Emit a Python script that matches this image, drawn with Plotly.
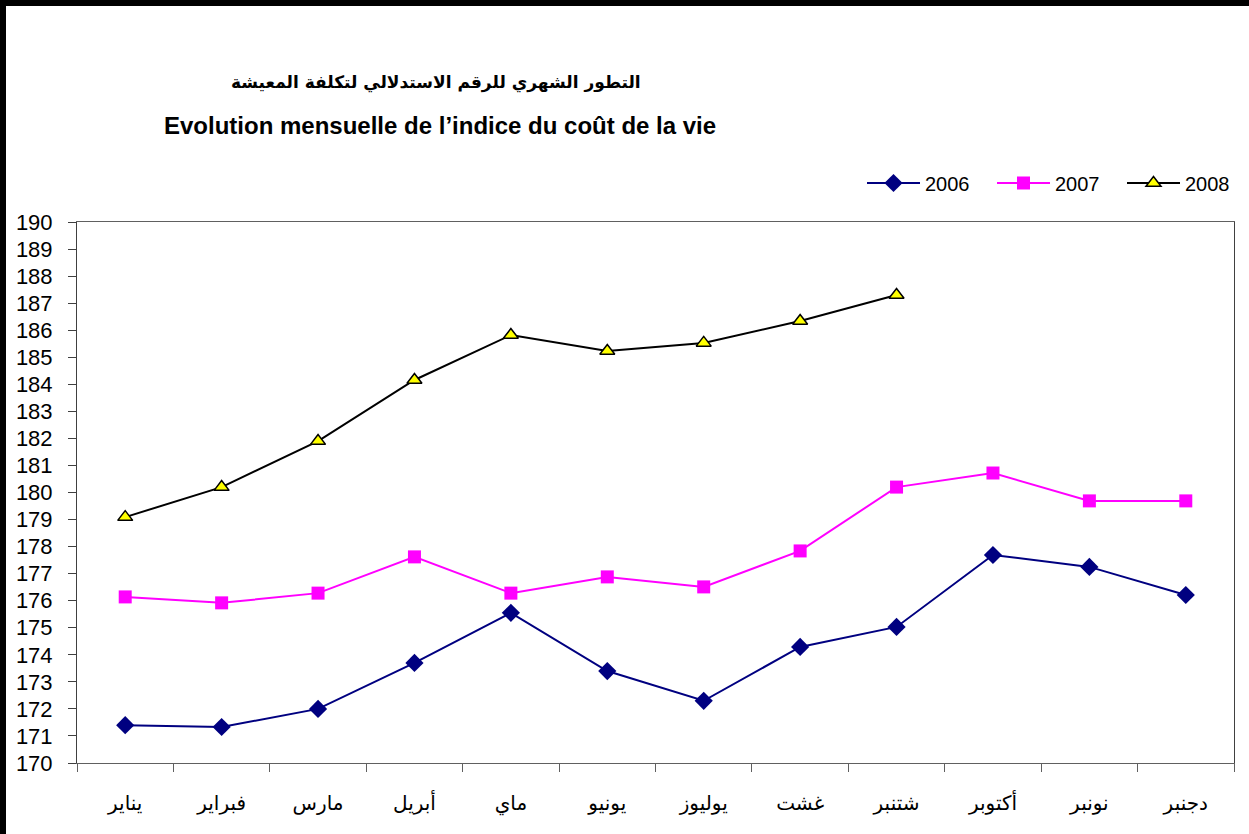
import plotly.graph_objects as go

months = ["يناير", "فبراير", "مارس", "أبريل", "ماي", "يونيو",
          "يوليوز", "غشت", "شتنبر", "أكتوبر", "نونبر", "دجنبر"]
y2006 = [171.4, 171.33, 172.0, 173.7, 175.55, 173.4, 172.3, 174.29, 175.03, 177.69, 177.25, 176.21]
y2007 = [176.14, 175.92, 176.28, 177.62, 176.28, 176.88, 176.51, 177.84, 180.2, 180.72, 179.69, 179.69]
y2008 = [179.09, 180.2, 181.9, 184.16, 185.82, 185.23, 185.53, 186.34, 187.3]
yticks = list(range(170, 191))

W, H = 1249, 834
L, R, T, B = 77, 15, 222, 71
pw, ph = W - L - R, H - T - B

def px(x):
    return (x - L) / pw

def py(y):
    return (H - B - y) / ph

fig = go.Figure()
fig.add_trace(go.Scatter(x=months, y=y2006, name="2006", mode="lines+markers",
                         line=dict(color="#000080", width=2),
                         marker=dict(symbol="diamond", size=14, color="#000080")))
fig.add_trace(go.Scatter(x=months, y=y2007, name="2007", mode="lines+markers",
                         line=dict(color="#FF00FF", width=2),
                         marker=dict(symbol="square", size=13, color="#FF00FF")))
fig.add_trace(go.Scatter(x=months[:len(y2008)], y=y2008, name="2008", mode="lines+markers",
                         line=dict(color="#000000", width=2),
                         marker=dict(symbol="triangle-up", size=13, color="#FFFF00",
                                     line=dict(color="#000000", width=1.5))))

fig.update_layout(
    width=W, height=H,
    margin=dict(l=L, r=R, t=T, b=B, autoexpand=False),
    paper_bgcolor="white", plot_bgcolor="white",
    font=dict(family="Arial, Liberation Sans, DejaVu Sans", color="black"),
    showlegend=True,
    legend=dict(orientation="h", x=px(862), xanchor="left", y=py(183), yanchor="middle",
                font=dict(size=20, family="Arial, Liberation Sans"),
                bgcolor="rgba(0,0,0,0)", itemwidth=53, entrywidth=62,
                entrywidthmode="pixels", tracegroupgap=0),
    xaxis=dict(categoryorder="array", categoryarray=months,
               range=[-0.5, 11.5], showgrid=False, zeroline=False,
               showline=True, linecolor="#606060", linewidth=1, mirror=True,
               ticks="outside", ticklen=8, tickcolor="#606060", tickson="boundaries",
               ticklabelstandoff=22,
               tickfont=dict(size=20, family="DejaVu Sans", color="black")),
    yaxis=dict(range=[170, 190], tickvals=yticks, showgrid=False, zeroline=False,
               showline=True, linecolor="#404040", linewidth=1, mirror=True,
               ticks="outside", ticklen=8, tickcolor="#404040",
               ticklabelstandoff=11,
               tickfont=dict(size=22, family="Arial, Liberation Sans", color="black")),
    annotations=[
        dict(text="<b>التطور الشهري للرقم الاستدلالي لتكلفة المعيشة</b>",
             xref="paper", yref="paper", x=px(436), y=py(82),
             xanchor="center", yanchor="middle", showarrow=False,
             font=dict(size=17, family="DejaVu Sans", color="black")),
        dict(text="<b>Evolution mensuelle de l’indice du coût de la vie</b>",
             xref="paper", yref="paper", x=px(440), y=py(126),
             xanchor="center", yanchor="middle", showarrow=False,
             font=dict(size=24, family="Arial, Liberation Sans", color="black")),
    ],
    shapes=[
        dict(type="line", xref="paper", yref="paper", x0=px(0), x1=px(W), y0=py(3), y1=py(3),
             line=dict(color="black", width=6)),
        dict(type="line", xref="paper", yref="paper", x0=px(3), x1=px(3), y0=py(0), y1=py(H),
             line=dict(color="black", width=6)),
    ],
)

fig.write_html("out.html", config={"displayModeBar": False},
               post_script="document.body.style.margin='0';document.body.style.padding='0';")
